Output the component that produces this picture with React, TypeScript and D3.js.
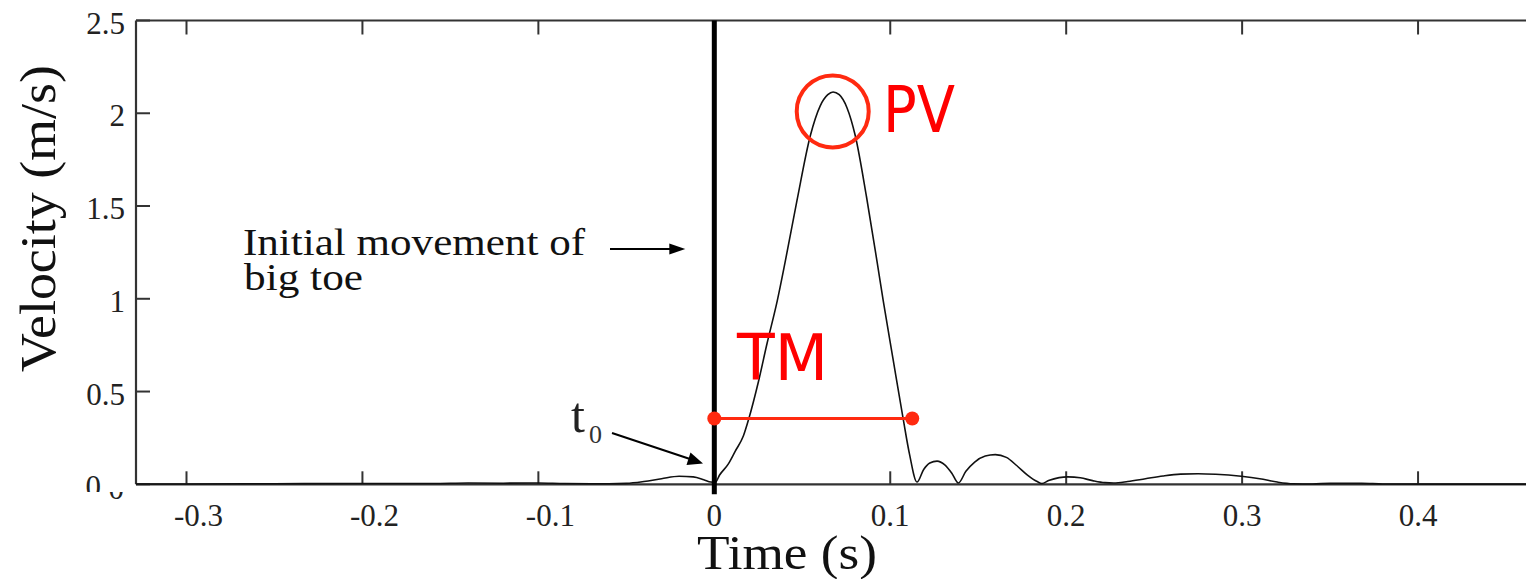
import React from "react";
import * as d3 from "d3";

// ---- data ----
const time = [
  -0.3287, -0.3, -0.25, -0.2, -0.16, -0.14, -0.12, -0.1, -0.085, -0.06, -0.05, -0.04, -0.03, -0.02, -0.012,
  -0.006, -0.002, 0.0005, 0.003, 0.008, 0.012, 0.0165, 0.0195, 0.025, 0.03, 0.0358, 0.0403, 0.047, 0.0546,
  0.0602, 0.0645, 0.0675, 0.071, 0.0754, 0.0801, 0.0865, 0.0925, 0.096, 0.1015, 0.1074, 0.111, 0.1152, 0.119,
  0.1225, 0.1266, 0.131, 0.135, 0.1387, 0.143, 0.148, 0.154, 0.1597, 0.166, 0.172, 0.178, 0.1835, 0.1862, 0.19,
  0.196, 0.201, 0.208, 0.215, 0.222, 0.227, 0.235, 0.245, 0.255, 0.265, 0.275, 0.285, 0.2995, 0.31, 0.32,
  0.329, 0.34, 0.35, 0.368, 0.38, 0.42, 0.46, 0.5,
];
const velocity = [
  0.002, 0.002, 0.003, 0.004, 0.004, 0.007, 0.006, 0.007, 0.004, 0.003, 0.005, 0.015, 0.03, 0.043, 0.04,
  0.025, 0.012, 0.01, 0.05, 0.11, 0.18, 0.26, 0.35, 0.55, 0.76, 0.99, 1.2, 1.53, 1.88,
  2.04, 2.1, 2.115, 2.1, 2.03, 1.88, 1.55, 1.2, 0.99, 0.68, 0.35, 0.16, 0.012, 0.08,
  0.115, 0.125, 0.105, 0.06, 0.007, 0.07, 0.12, 0.152, 0.16, 0.145, 0.1, 0.05, 0.015, 0.004, 0.02,
  0.036, 0.04, 0.035, 0.02, 0.009, 0.007, 0.015, 0.03, 0.045, 0.055, 0.057, 0.054, 0.043, 0.03, 0.012,
  0.003, 0.002, 0.005, 0.005, 0.002, 0.001, 0.001, 0.001,
];
const xTicks = [-0.3, -0.2, -0.1, 0, 0.1, 0.2, 0.3, 0.4];
const xTickLabels = ["-0.3", "-0.2", "-0.1", "0", "0.1", "0.2", "0.3", "0.4"];
const yTicks = [0, 0.5, 1, 1.5, 2, 2.5];
const yTickLabels = ["0", "0.5", "1", "1.5", "2", "2.5"];
const onsetTime = 0;
const tmEnd = 0.1125;
const tmLevel = 0.355;
const pvTime = 0.0673;
const pvLevel = 2.01;

const W = 1526;
const H = 579;
const SERIF = "Liberation Serif, Times New Roman, serif";
const SANS = "DejaVu Sans, Noto Sans, sans-serif";
const AX = "#333";
const RED = "#ff2a10";

export default function App() {
  const x = d3.scaleLinear().domain([-0.3287, 0.5]).range([136, 1594]);
  const y = d3.scaleLinear().domain([0, 2.5]).range([484.3, 20.5]);
  const pts = time.map((t, i) => [t, velocity[i]] as [number, number]);
  const line = d3
    .line<[number, number]>()
    .x((d) => x(d[0]))
    .y((d) => y(d[1]))
    .curve(d3.curveMonotoneX);

  const x0 = x(onsetTime);
  const yb = y(0);
  const yt = y(2.5);
  const xl = x.range()[0];

  return (
    <svg
      width={W}
      height={H}
      style={{ position: "absolute", left: 0, top: 0, background: "#fff" }}
      xmlns="http://www.w3.org/2000/svg"
    >
      <defs>
        <clipPath id="plot">
          <rect x={xl} y={yt - 2} width={W - xl} height={yb - yt + 4} />
        </clipPath>
        <clipPath id="zeroTop">
          <rect x={0} y={0} width={135} height={492} />
        </clipPath>
        <clipPath id="zeroBot">
          <rect x={0} y={492} width={135} height={8} />
        </clipPath>
      </defs>
      <rect x={0} y={0} width={W} height={H} fill="#fff" />

      {/* frame */}
      <line x1={xl} x2={W} y1={yt} y2={yt} stroke={AX} strokeWidth={2.2} />
      <line x1={xl} x2={W} y1={yb} y2={yb} stroke={AX} strokeWidth={2.2} />
      <line x1={xl} x2={xl} y1={yt} y2={yb} stroke={AX} strokeWidth={2.2} />

      {/* x ticks (bottom and top, inward) */}
      {xTicks.map((t) => (
        <g key={"xt" + t}>
          <line x1={x(t)} x2={x(t)} y1={yb} y2={yb - 13} stroke={AX} strokeWidth={2} />
          <line x1={x(t)} x2={x(t)} y1={yt} y2={yt + 14} stroke={AX} strokeWidth={2} />
        </g>
      ))}
      {xTicks.map((t, i) => (
        <text
          key={"xl" + t}
          x={x(t) + (t < 0 ? 12 : 0)}
          y={526}
          textAnchor="middle"
          fontFamily={SERIF}
          fontSize={31}
          fill="#222"
        >
          {xTickLabels[i]}
        </text>
      ))}

      {/* y ticks */}
      {yTicks.map((v) => (
        <line key={"yt" + v} x1={xl} x2={xl + 14} y1={y(v)} y2={y(v)} stroke={AX} strokeWidth={2} />
      ))}
      {yTicks.map((v, i) =>
        v === 0 ? (
          <g key={"yl" + v}>
            <text x={101} y={497} textAnchor="end" fontFamily={SERIF} fontSize={31} fill="#222" clipPath="url(#zeroTop)">
              {yTickLabels[i]}
            </text>
            <text x={124} y={499} textAnchor="end" fontFamily={SERIF} fontSize={31} fill="#222" clipPath="url(#zeroBot)">
              {yTickLabels[i]}
            </text>
          </g>
        ) : (
          <text
            key={"yl" + v}
            x={125}
            y={y(v) + 13}
            textAnchor="end"
            fontFamily={SERIF}
            fontSize={31}
            fill="#222"
          >
            {yTickLabels[i]}
          </text>
        )
      )}

      {/* axis titles */}
      <text
        transform={`translate(55,218.5) rotate(-90)`}
        textAnchor="middle"
        fontFamily={SERIF}
        fontSize={51}
        textLength={307}
        lengthAdjust="spacingAndGlyphs"
        fill="#111"
      >
        Velocity (m/s)
      </text>
      <text
        x={787}
        y={569}
        textAnchor="middle"
        fontFamily={SERIF}
        fontSize={49}
        textLength={180}
        lengthAdjust="spacingAndGlyphs"
        fill="#111"
      >
        Time (s)
      </text>

      {/* velocity curve */}
      <path d={line(pts) || ""} fill="none" stroke="#111" strokeWidth={1.6} clipPath="url(#plot)" />

      {/* onset line */}
      <line x1={x0} x2={x0} y1={yt} y2={yb + 10} stroke="#000" strokeWidth={5} />

      {/* initial movement annotation */}
      <text x={243} y={255} fontFamily={SERIF} fontSize={38} textLength={342} lengthAdjust="spacingAndGlyphs" fill="#111">
        Initial movement of
      </text>
      <text x={244} y={290} fontFamily={SERIF} fontSize={38} textLength={119} lengthAdjust="spacingAndGlyphs" fill="#111">
        big toe
      </text>
      <line x1={610} x2={672} y1={249} y2={249} stroke="#000" strokeWidth={2} />
      <path d={`M ${x0 - 29} 249 L ${x0 - 45} 243.5 L ${x0 - 45} 254.5 Z`} fill="#000" />

      {/* t0 annotation */}
      <text x={571} y={432} fontFamily={SERIF} fontSize={50} fill="#222">
        t
      </text>
      <text x={589} y={443} fontFamily={SERIF} fontSize={26} fill="#333">
        0
      </text>
      <line x1={612} y1={433} x2={690} y2={459} stroke="#000" strokeWidth={2} />
      <path d="M 703 463.5 L 686.5 465 L 690.5 452.5 Z" fill="#000" />

      {/* TM */}
      <line x1={x(onsetTime)} x2={x(tmEnd)} y1={y(tmLevel)} y2={y(tmLevel)} stroke={RED} strokeWidth={3} />
      <circle cx={x(onsetTime)} cy={y(tmLevel)} r={7} fill={RED} />
      <circle cx={x(tmEnd)} cy={y(tmLevel)} r={7} fill={RED} />
      <text x={737} y={380} fontFamily={SANS} fontSize={64} textLength={91} lengthAdjust="spacingAndGlyphs" fill="#ff0000">
        TM
      </text>

      {/* PV */}
      <circle cx={x(pvTime)} cy={y(pvLevel)} r={36} fill="none" stroke={RED} strokeWidth={4} />
      <text x={883} y={132} fontFamily={SANS} fontSize={64} textLength={72} lengthAdjust="spacingAndGlyphs" fill="#ff0000">
        PV
      </text>
    </svg>
  );
}
